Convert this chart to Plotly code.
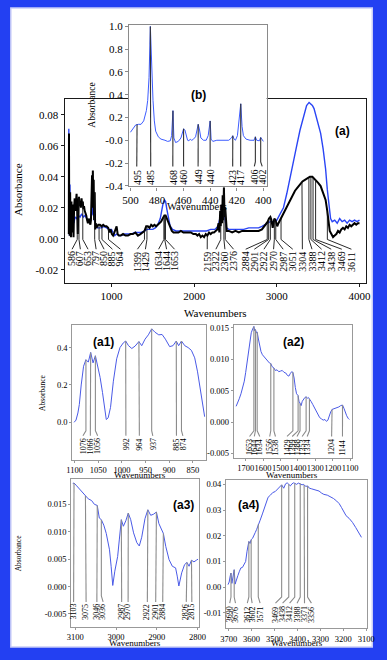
import numpy as np
import plotly.graph_objects as go

W, H = 387, 660
SERIF = "Liberation Serif"
SANS = "Liberation Sans"

# ---------------- data: main panel (a) ----------------
a_wn_blue = [484, 487, 492, 498, 503, 510, 520, 530, 545, 560, 580, 600, 620, 640, 660, 680, 700,
             720, 740, 760, 770, 778, 785, 792, 800, 815, 830, 850, 880, 910, 940, 970, 1000, 1020,
             1040, 1060, 1090, 1120, 1160, 1200, 1240, 1280, 1320, 1360, 1400, 1430, 1460, 1500,
             1530, 1560, 1590, 1610, 1625, 1640, 1655, 1670, 1690, 1710, 1740, 1780, 1820, 1860,
             1900, 1950, 2000, 2050, 2100, 2150, 2200, 2250, 2290, 2310, 2330, 2345, 2360, 2375,
             2390, 2420, 2480, 2540, 2600, 2660, 2720, 2780, 2820, 2850, 2880, 2920, 2960, 3000,
             3040, 3080, 3120, 3160, 3200, 3240, 3280, 3320, 3360, 3390, 3410, 3430, 3450, 3470,
             3500, 3530, 3560, 3590, 3610, 3630, 3650, 3670, 3700, 3730, 3760, 3790, 3820, 3850,
             3880, 3910, 3940, 3970, 4000]
a_abs_blue = [0.071, 0.010, 0.002, 0.035, 0.005, 0.012, 0.006, 0.013, 0.010, 0.014, 0.013, 0.015,
              0.014, 0.016, 0.014, 0.015, 0.013, 0.012, 0.011, 0.016, 0.024, 0.015, 0.030, 0.012,
              0.010, 0.008, 0.007, 0.007, 0.007, 0.008, 0.007, 0.006, 0.006, 0.004, 0.002, 0.003,
              0.002, 0.002, 0.003, 0.003, 0.003, 0.004, 0.004, 0.004, 0.005, 0.006, 0.006, 0.006,
              0.007, 0.009, 0.013, 0.019, 0.023, 0.025, 0.024, 0.019, 0.012, 0.008, 0.006, 0.005,
              0.005, 0.005, 0.005, 0.005, 0.005, 0.005, 0.005, 0.005, 0.006, 0.006, 0.008, 0.014,
              0.018, 0.016, 0.020, 0.012, 0.007, 0.006, 0.006, 0.006, 0.006, 0.007, 0.007, 0.007,
              0.008, 0.009, 0.010, 0.011, 0.011, 0.012, 0.016, 0.020, 0.029, 0.040, 0.050, 0.060,
              0.070, 0.079, 0.086, 0.088, 0.087, 0.086, 0.084, 0.080, 0.075, 0.068, 0.058, 0.045,
              0.032, 0.020, 0.013, 0.011, 0.012, 0.010, 0.013, 0.011, 0.012, 0.010, 0.012, 0.011,
              0.012, 0.011, 0.012]

a_wn_black = [484, 486, 489, 495, 500, 505, 510, 516, 522, 528, 535, 541, 548, 555, 562, 570, 578,
              586, 593, 600, 607, 615, 622, 630, 638, 645, 653, 660, 668, 676, 685, 695, 705, 715,
              725, 735, 745, 752, 760, 765, 770, 775, 780, 785, 790, 797, 803, 810, 818, 825, 840,
              860, 880, 900, 920, 940, 960, 975, 990, 1005, 1020, 1035, 1050, 1062, 1075, 1090,
              1110, 1140, 1170, 1200, 1230, 1260, 1290, 1320, 1350, 1380, 1400, 1420, 1440, 1460,
              1480, 1500, 1520, 1540, 1560, 1580, 1600, 1620, 1640, 1655, 1670, 1690, 1710, 1730,
              1750, 1780, 1810, 1840, 1870, 1900, 1930, 1960, 1990, 2020, 2040, 2060, 2080, 2100,
              2120, 2140, 2160, 2180, 2200, 2220, 2240, 2260, 2280, 2295, 2305, 2315, 2322, 2330,
              2338, 2345, 2352, 2360, 2368, 2376, 2385, 2395, 2420, 2460, 2500, 2540, 2580, 2620,
              2660, 2700, 2740, 2780, 2820, 2850, 2870, 2890, 2905, 2922, 2935, 2950, 2960, 2970,
              2985, 2995, 3005, 3020, 3040, 3060, 3080, 3100, 3130, 3160, 3190, 3220, 3250, 3280,
              3310, 3340, 3370, 3400, 3430, 3450, 3470, 3500, 3530, 3560, 3590, 3610, 3625, 3640,
              3660, 3680, 3700, 3720, 3740, 3760, 3780, 3800, 3820, 3840, 3860, 3880, 3900, 3920,
              3940, 3960, 3980, 4000]
a_abs_black = [0.003, 0.068, 0.010, 0.002, 0.030, 0.008, 0.001, 0.024, 0.004, 0.022, 0.012, 0.001,
               0.020, 0.026, 0.018, 0.024, 0.029, 0.018, 0.003, 0.022, 0.027, 0.021, 0.023, 0.020,
               0.026, 0.022, 0.024, 0.019, 0.021, 0.018, 0.017, 0.015, 0.012, 0.010, 0.013, 0.011,
               0.009, 0.012, 0.030, 0.041, 0.025, 0.044, 0.020, 0.038, 0.012, 0.030, 0.006, 0.010,
               0.007, 0.008, 0.009, 0.009, 0.008, 0.009, 0.008, 0.008, 0.007, 0.004, 0.006, 0.003,
               0.002, 0.004, 0.007, 0.008, 0.003, 0.002, 0.002, 0.003, 0.002, 0.002, 0.003, 0.003,
               0.004, 0.002, 0.003, 0.004, 0.005, 0.008, 0.008, 0.007, 0.009, 0.008, 0.009, 0.008,
               0.009, 0.010, 0.011, 0.013, 0.015, 0.015, 0.013, 0.010, 0.008, 0.005, 0.004, 0.004,
               0.004, 0.005, 0.004, 0.004, 0.004, 0.004, 0.003, 0.003, 0.002, 0.003, 0.001, 0.002,
               0.001, 0.003, 0.002, 0.004, 0.003, 0.004, 0.004, 0.005, 0.006, 0.010, 0.004, 0.018,
               0.008, 0.022, 0.010, 0.028, 0.012, 0.033, 0.014, 0.020, 0.008, 0.005, 0.005, 0.004,
               0.005, 0.004, 0.005, 0.005, 0.005, 0.005, 0.005, 0.005, 0.006, 0.008, 0.009, 0.011,
               0.013, 0.014, 0.012, 0.007, 0.010, 0.013, 0.012, 0.009, 0.008, 0.010, 0.012, 0.014,
               0.016, 0.018, 0.022, 0.025, 0.028, 0.031, 0.033, 0.035, 0.037, 0.038, 0.039, 0.040,
               0.040, 0.039, 0.038, 0.036, 0.034, 0.030, 0.025, 0.018, 0.010, 0.005, 0.003, 0.001,
               0.002, 0.003, 0.005, 0.004, 0.006, 0.007, 0.006, 0.008, 0.007, 0.009, 0.008, 0.009,
               0.010, 0.009, 0.010, 0.010]
a_peaks = [586, 607, 653, 797, 850, 885, 964, 1399, 1429, 1634, 1644, 1653, 2159, 2322, 2360, 2376,
           2884, 2901, 2922, 2970, 2987, 3051, 3304, 3388, 3412, 3438, 3469, 3611]

# ---------------- data: inset (b) ----------------
b_wn = [500, 498, 496, 494, 492, 490, 488, 487, 486, 485, 484, 483, 482, 481, 479, 477, 474, 472,
        470, 469, 468, 467.3, 466, 464, 462, 461, 460, 459, 458, 457, 456, 455, 454, 453, 451, 450,
        449, 448, 447, 445, 443, 441.5, 440, 439.3, 438, 435, 430, 426, 424, 423, 422, 421, 419.5,
        418.5, 417, 416, 415, 413, 410, 407, 406, 405, 403, 402, 401, 400]
b_abs = [0.07, 0.10, 0.135, 0.14, 0.14, 0.17, 0.26, 0.35, 0.55, 1.0, 0.62, 0.35, 0.17, 0.08, 0.03,
         0.01, 0.0, -0.01, -0.005, 0.04, 0.26, 0.02, -0.02, -0.01, 0.02, 0.07, 0.10, 0.09, 0.03, 0.0,
         -0.005, 0.01, 0.0, 0.005, 0.03, 0.10, 0.14, 0.09, 0.02, 0.0, 0.0, 0.04, 0.17, 0.01, -0.01,
         0.0, 0.0, 0.0, 0.02, 0.04, 0.01, 0.0, 0.04, 0.15, 0.32, 0.12, 0.04, 0.01, 0.0, 0.0, 0.03,
         0.0, -0.005, 0.025, 0.01, -0.01]
b_peaks = [495, 485, 468, 460, 449, 440, 423, 417, 406, 402]

# ---------------- data: (a1) ----------------
a1_wn = [1101, 1097, 1093, 1090, 1086, 1081, 1076, 1071, 1066, 1061, 1056, 1051, 1046, 1041, 1037,
         1033, 1029, 1024, 1018, 1011, 1004, 997, 992, 986, 979, 972, 964, 958, 951, 944, 937, 930,
         922, 915, 908, 899, 892, 885, 880, 874, 867, 860, 853, 846, 840, 834, 829, 825]
a1_abs = [0.000, 0.012, 0.05, 0.095, 0.20, 0.30, 0.335, 0.322, 0.374, 0.318, 0.356, 0.30, 0.24,
          0.16, 0.07, 0.015, 0.024, 0.08, 0.22, 0.34, 0.40, 0.425, 0.435, 0.41, 0.395, 0.408, 0.432,
          0.41, 0.445, 0.468, 0.500, 0.482, 0.468, 0.47, 0.445, 0.405, 0.41, 0.435, 0.41, 0.435,
          0.41, 0.40, 0.385, 0.345, 0.27, 0.18, 0.09, 0.03]
a1_peaks = [1076, 1066, 1056, 992, 964, 937, 885, 874]

# ---------------- data: (a2) ----------------
a2_wn = [1755, 1745, 1737, 1727, 1718, 1708, 1700, 1692, 1684, 1676, 1668, 1660, 1653, 1648, 1644,
         1638, 1634, 1627, 1620, 1612, 1604, 1596, 1588, 1580, 1572, 1564, 1556, 1548, 1538, 1530,
         1520, 1510, 1500, 1490, 1480, 1470, 1460, 1452, 1444, 1436, 1429, 1422, 1415, 1408, 1399,
         1394, 1388, 1382, 1375, 1368, 1360, 1353, 1345, 1340, 1334, 1325, 1315, 1305, 1295, 1285,
         1275, 1265, 1255, 1245, 1236, 1228, 1220, 1212, 1204, 1195, 1185, 1175, 1165, 1155, 1144,
         1136, 1128, 1120, 1112, 1105]
a2_abs = [0.0025, 0.0031, 0.0037, 0.0045, 0.0053, 0.0065, 0.0079, 0.0097, 0.0115, 0.0130, 0.0142,
          0.0148, 0.0152, 0.0145, 0.0147, 0.0142, 0.0143, 0.0132, 0.0120, 0.0112, 0.0107, 0.0104,
          0.0101, 0.0099, 0.0096, 0.0094, 0.0093, 0.0088, 0.0086, 0.0082, 0.0083, 0.0080, 0.0081,
          0.0082, 0.0079, 0.0078, 0.0074, 0.0073, 0.0077, 0.0080, 0.0079, 0.0070, 0.0055, 0.0045,
          0.0042, 0.0033, 0.0030, 0.0026, 0.0033, 0.0036, 0.0039, 0.0040, 0.0038, 0.0039, 0.0037,
          0.0033, 0.0028, 0.0023, 0.0017, 0.0011, 0.0007, 0.0005, 0.0003, 0.0004, 0.0001, 0.0003,
          0.0010, 0.0016, 0.0020, 0.0021, 0.0022, 0.0022, 0.0024, 0.0026, 0.0027, 0.0022, 0.0015,
          0.0010, 0.0006, 0.0004]
a2_peaks = [1653, 1644, 1634, 1556, 1538, 1429, 1399, 1388, 1353, 1334, 1204, 1144]

# ---------------- data: (a3) ----------------
a3_wn = [3106, 3103, 3098, 3092, 3086, 3080, 3075, 3068, 3060, 3053, 3046, 3041, 3036, 3030, 3024,
         3016, 3012, 3008, 3003, 2996, 2992, 2987, 2982, 2976, 2970, 2964, 2957, 2949, 2943, 2937,
         2929, 2922, 2915, 2908, 2901, 2895, 2889, 2884, 2878, 2870, 2862, 2854, 2850, 2846, 2839,
         2832, 2826, 2821, 2815, 2809, 2803, 2799]
a3_abs = [0.0188, 0.0189, 0.0185, 0.0180, 0.0175, 0.0168, 0.0165, 0.0160, 0.0157, 0.0150, 0.0148,
          0.0125, 0.0122, 0.0112, 0.0097, 0.0067, 0.0037, 0.0002, 0.0028, 0.0055, 0.0085, 0.0122,
          0.0110, 0.0120, 0.0134, 0.0122, 0.0098, 0.0080, 0.0074, 0.0090, 0.0124, 0.0140, 0.0130,
          0.0132, 0.0136, 0.0115, 0.0105, 0.0097, 0.0073, 0.0049, 0.0037, 0.0034, 0.0019, 0.0001,
          0.0025, 0.0040, 0.0044, 0.0037, 0.0048, 0.0045, 0.0048, 0.0050]
a3_peaks = [3103, 3075, 3046, 3036, 2987, 2970, 2922, 2901, 2884, 2826, 2815]

# ---------------- data: (a4) ----------------
a4_wn = [3703, 3698, 3693, 3690, 3686, 3681, 3676, 3672, 3667, 3660, 3654, 3647, 3640, 3633, 3626,
         3620, 3616, 3612, 3607, 3602, 3596, 3590, 3584, 3578, 3571, 3563, 3553, 3543, 3535, 3528,
         3518, 3508, 3497, 3487, 3478, 3469, 3460, 3452, 3445, 3438, 3431, 3424, 3417, 3412, 3404,
         3396, 3388, 3380, 3375, 3371, 3363, 3356, 3348, 3340, 3333, 3320, 3306, 3295, 3285, 3270,
         3257, 3243, 3229, 3218, 3208, 3198, 3188, 3175, 3160, 3146, 3132, 3121]
a4_abs = [0.0010, 0.0020, 0.0045, 0.0055, 0.0015, 0.0050, 0.0068, 0.0012, 0.0030, 0.0045, 0.0060,
          0.0075, 0.0077, 0.0090, 0.0100, 0.0140, 0.0165, 0.0178, 0.0170, 0.0185, 0.0190, 0.0205,
          0.0213, 0.0225, 0.0245, 0.0260, 0.0285, 0.0310, 0.0335, 0.0350, 0.0358, 0.0368, 0.0372,
          0.0381, 0.0390, 0.0398, 0.0385, 0.0402, 0.0406, 0.0400, 0.0394, 0.0402, 0.0406, 0.0404,
          0.0400, 0.0405, 0.0403, 0.0398, 0.0400, 0.0397, 0.0392, 0.0394, 0.0385, 0.0383, 0.0381,
          0.0378, 0.0374, 0.0366, 0.0361, 0.0358, 0.0352, 0.0345, 0.0335, 0.0325, 0.0310, 0.0293,
          0.0278, 0.0268, 0.0252, 0.0232, 0.0213, 0.0194]
a4_peaks = [3690, 3676, 3612, 3602, 3571, 3469, 3438, 3412, 3388, 3371, 3356]

# tick labels
a_xticks = ["1000", "2000", "3000", "4000"]
a_yticks = ["-0.02", "0.00", "0.02", "0.04", "0.06", "0.08"]
b_xticks = ["500", "480", "460", "440", "420", "400"]
b_yticks = ["-0.4", "-0.2", "-0.0", "0.2", "0.4", "0.6", "0.8", "1.0"]
a1_xticks = ["1100", "1050", "1000", "950", "900", "850"]
a1_yticks = ["0.0", "0.2", "0.4"]
a2_xticks = ["1700", "1600", "1500", "1400", "1300", "1200", "1100"]
a2_yticks = ["-0.005", "0.000", "0.005", "0.010", "0.015"]
a3_xticks = ["3100", "3000", "2900", "2800"]
a3_yticks = ["-0.005", "0.000", "0.005", "0.010", "0.015"]
a4_xticks = ["3700", "3600", "3500", "3400", "3300", "3200", "3100"]
a4_yticks = ["-0.01", "0.00", "0.01", "0.02", "0.03", "0.04"]

# ---------------- layout of the panels (pixel boxes) ----------------
panels = {
    "a":  dict(n="", box=(60, 373, 96, 283), xr=[434, 4073], yr=[-0.0287, 0.0904],
               xt=a_xticks, yt=a_yticks, line="#1a1a1a", tick=11, tl=3,
               # knee, end of leader, top of text
               lv=(-0.0005, -0.0068, -0.0076), lab=10, lc="#111111",
               lpx=[67.7, 76.3, 84.3, 92.7, 101, 109.7, 118, 135.7, 144, 157.7, 166, 174.3,
                    208.3, 217.3, 226.7, 235.7, 248.3, 257.3, 267.3, 277.3, 287.3, 297.3,
                    307.3, 317.3, 327.3, 337.3, 348.3, 358.3]),
    "b":  dict(n="2", box=(127, 270, 21, 185), xr=[501, 397.6], yr=[-0.406, 1.015],
               xt=b_xticks, yt=b_yticks, line="#8a8a8a", tick=11, tl=3,
               lv=(-0.19, -0.23, -0.25), lab=10, lc="#333333",
               lpx=[135, 149.5, 172.5, 183.7, 198.8, 211.3, 234.8, 243.1, 257.3, 265.5]),
    "a1": dict(n="3", box=(68, 206.7, 325, 462), xr=[1104.7, 822.8], yr=[-0.2, 0.523],
               xt=a1_xticks, yt=a1_yticks, line="#999999", tick=8.5, tl=2,
               lv=(-0.045, -0.072, -0.08), lab=8, lc="#8c8c8c",
               lpx=[79, 86.7, 94.3, 123.7, 137.7, 151.7, 176.3, 183]),
    "a2": dict(n="4", box=(236, 359, 325, 460), xr=[1768, 1089], yr=[-0.00568, 0.0155],
               xt=a2_xticks, yt=a2_yticks, line="#999999", tick=8.5, tl=2,
               lv=(-0.0014, -0.0023, -0.0026), lab=8, lc="#8c8c8c",
               lpx=[252.3, 257.3, 263, 273.3, 279.3, 291.3, 296.7, 301.7, 307, 312.3, 337.7, 349]),
    "a3": dict(n="5", box=(67, 200, 481.7, 631.7), xr=[3109.4, 2796], yr=[-0.0074, 0.0196],
               xt=a3_xticks, yt=a3_yticks, line="#999999", tick=8.5, tl=2,
               lv=(-0.0017, -0.0028, -0.003), lab=8, lc="#8c8c8c",
               lpx=[69.3, 82.3, 93.5, 100, 119.3, 126, 146, 154.7, 162, 186.5, 192.3]),
    "a4": dict(n="6", box=(228, 374, 482.3, 633), xr=[3711, 3099], yr=[-0.016, 0.0418],
               xt=a4_xticks, yt=a4_yticks, line="#999999", tick=8.5, tl=2,
               lv=(-0.0038, -0.0062, -0.0071), lab=8, lc="#8c8c8c",
               lpx=[231.7, 237.7, 250, 255, 263.3, 279.3, 286.7, 294, 301.7, 309.5, 316.7]),
}

series = {
    "a": (a_wn_black, a_abs_black, a_peaks),
    "b": (b_wn, b_abs, b_peaks),
    "a1": (a1_wn, a1_abs, a1_peaks),
    "a2": (a2_wn, a2_abs, a2_peaks),
    "a3": (a3_wn, a3_abs, a3_peaks),
    "a4": (a4_wn, a4_abs, a4_peaks),
}


def px2x(px, p):
    x0, x1 = p["box"][0], p["box"][1]
    r0, r1 = p["xr"]
    return r0 + (px - x0) / (x1 - x0) * (r1 - r0)


fig = go.Figure()
annotations = []
layout = {}

for key, p in panels.items():
    n = p["n"]
    x0, x1, y0, y1 = p["box"]
    ax = dict(showgrid=False, zeroline=False, showline=True, mirror=True, linecolor=p["line"],
              linewidth=1.2, ticks="outside", ticklen=p["tl"], tickwidth=1, tickcolor=p["line"],
              tickangle=0, tickfont=dict(family=SERIF, size=p["tick"], color="black"))
    layout["xaxis" + n] = dict(ax, domain=[x0 / W, x1 / W], range=p["xr"], anchor="y" + n,
                               tickvals=[float(t) for t in p["xt"]], ticktext=p["xt"])
    layout["yaxis" + n] = dict(ax, domain=[1 - y1 / H, 1 - y0 / H], range=p["yr"], anchor="x" + n,
                               tickvals=[float(t) for t in p["yt"]], ticktext=p["yt"])

    xa, ya = "x" + n, "y" + n
    if key == "b":
        # opaque background of the inset, hides the main spectra beneath it
        xr, yr = p["xr"], p["yr"]
        fig.add_trace(go.Scatter(x=[xr[0], xr[1], xr[1], xr[0], xr[0]],
                                 y=[yr[0], yr[0], yr[1], yr[1], yr[0]],
                                 fill="toself", fillcolor="white", mode="lines",
                                 line=dict(width=0), hoverinfo="skip", xaxis=xa, yaxis=ya))

    if key == "a":
        fig.add_trace(go.Scatter(x=a_wn_blue, y=a_abs_blue, mode="lines",
                                 line=dict(color="#2a45f5", width=1.4), xaxis=xa, yaxis=ya))
        fig.add_trace(go.Scatter(x=a_wn_black, y=a_abs_black, mode="lines",
                                 line=dict(color="black", width=2), xaxis=xa, yaxis=ya))
    else:
        wn, ab, _ = series[key]
        fig.add_trace(go.Scatter(x=wn, y=ab, mode="lines",
                                 line=dict(color="#4a5ae6" if key != "b" else "#3d5cff", width=1),
                                 xaxis=xa, yaxis=ya))

    # peak leader lines and labels
    wn, ab, peaks = series[key]
    order = np.argsort(wn)
    xs_sorted = np.asarray(wn, float)[order]
    ys_sorted = np.asarray(ab, float)[order]
    knee, lend, ttop = p["lv"]
    lx_all, ly_all = [], []
    for pk, lp in zip(peaks, p["lpx"]):
        top = float(np.interp(pk, xs_sorted, ys_sorted))
        lx = px2x(lp, p)
        lx_all += [pk, pk, lx, None]
        ly_all += [top, knee, lend, None]
        annotations.append(dict(x=lx, y=ttop, xref=xa, yref=ya, text=str(pk), textangle=-90,
                                showarrow=False, xanchor="center", yanchor="top", borderpad=0,
                                font=dict(family=SERIF, size=p["lab"], color="black")))
    fig.add_trace(go.Scatter(x=lx_all, y=ly_all, mode="lines",
                             line=dict(color=p["lc"], width=0.9 if key == "a" else 1.1),
                             xaxis=xa, yaxis=ya))


def note(px, py, text, size, family=SERIF, angle=0, bold=False):
    annotations.append(dict(x=px / W, y=1 - py / H, xref="paper", yref="paper",
                            text="<b>%s</b>" % text if bold else text, textangle=angle,
                            showarrow=False, xanchor="center", yanchor="middle",
                            font=dict(family=family, size=size, color="black")))


note(12, 188, "Absorbance", 11, angle=-90)
note(216.7, 313.3, "Wavenumbers", 11)
note(349, 129, "(a)", 12, family=SANS, bold=True)
note(87.5, 103, "Absorbance", 9.5, angle=-90)
note(198, 205, "Wavenumbers", 10.5)
note(199, 92, "(b)", 12, family=SANS, bold=True)
note(36.7, 394, "Absorbance", 7.5, angle=-90)
note(138.3, 477.5, "Wavenumbers", 9)
note(100.7, 342.7, "(a1)", 12, family=SANS, bold=True)
note(296.7, 477.5, "Wavenumbers", 9)
note(297.7, 342.7, "(a2)", 12, family=SANS, bold=True)
note(11.7, 556.7, "Absorbance", 7.5, angle=-90)
note(133.3, 648, "Wavenumbers", 9)
note(183.3, 508.3, "(a3)", 12, family=SANS, bold=True)
note(301.7, 648, "Wavenumbers", 9)
note(251, 508.3, "(a4)", 12, family=SANS, bold=True)

shapes = [
    dict(type="rect", xref="paper", yref="paper", x0=4 / W, x1=380 / W, y0=1 - 652 / H, y1=1 - 4 / H,
         fillcolor="white", line=dict(color="#c9cdf8", width=1.5), layer="below"),
]

fig.update_layout(width=W, height=H, margin=dict(l=0, r=0, t=0, b=0),
                  paper_bgcolor="#2340f2", plot_bgcolor="white", showlegend=False,
                  annotations=annotations, shapes=shapes, **layout)

# the page body keeps a default margin; drop it so the figure fills the window
fig.write_html("out.html", config={"displayModeBar": False},
               post_script="document.body.style.margin='0';")
